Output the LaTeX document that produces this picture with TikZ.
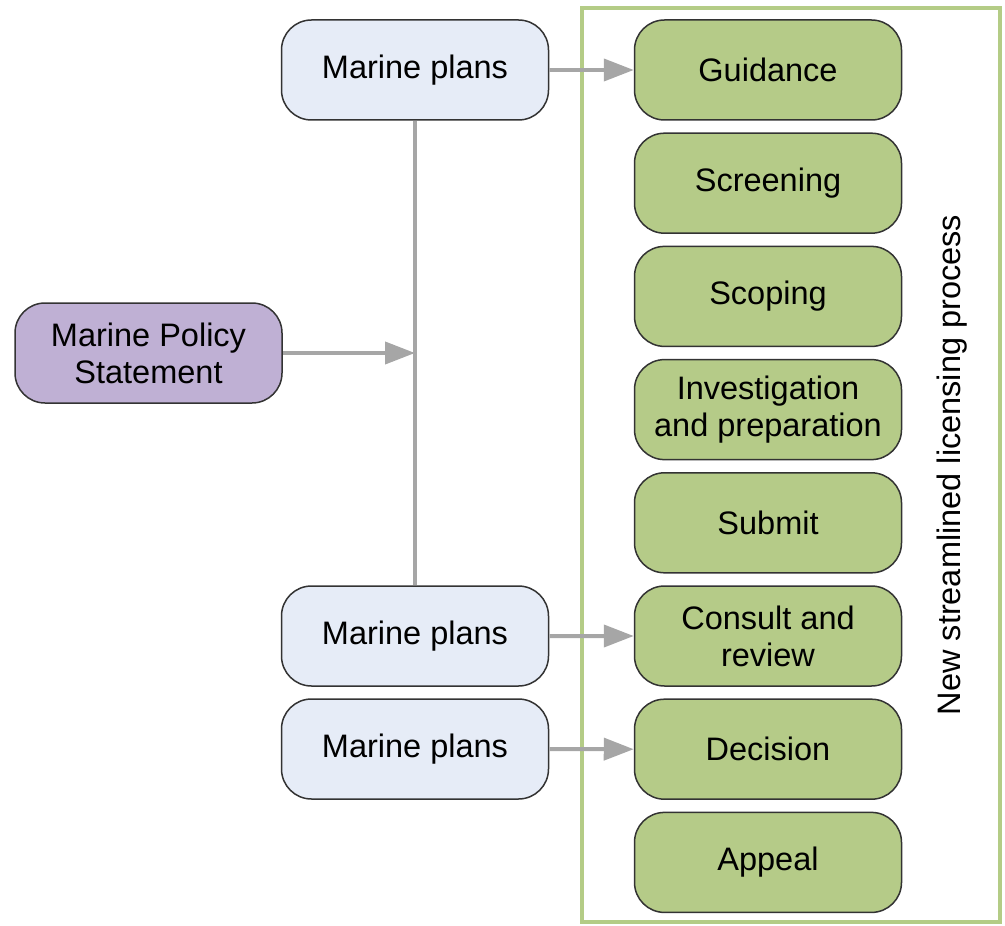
\documentclass[tikz,border=0pt]{standalone}
\usepackage{fontspec}
\setmainfont{Liberation Sans}
\usetikzlibrary{arrows.meta}

\definecolor{planblue}{HTML}{E6ECF7}
\definecolor{policypurple}{HTML}{BFB0D4}
\definecolor{stepgreen}{HTML}{B5CB88}
\definecolor{framegreen}{HTML}{B4CC86}
\definecolor{linkgray}{HTML}{A6A6A6}

\tikzset{
  stage/.style={draw=black!80, line width=0.75pt, rounded corners=15pt,
    minimum width=133.5pt, minimum height=50pt, inner sep=0pt, align=center,
    font=\fontsize{16.25}{18.5}\selectfont},
  plan/.style={stage, fill=planblue},
  policy/.style={stage, fill=policypurple},
  licence/.style={stage, fill=stepgreen},
  link/.style={draw=linkgray, line width=2pt, -{Triangle[length=15pt,width=11pt]}}
}

\begin{document}
\begin{tikzpicture}[x=0.5pt,y=-0.5pt]
    \useasboundingbox (0,0) rectangle (1005,925);
    % licensing frame
    \draw[framegreen, line width=2pt] (582,8) rectangle (1000,922);
    \node[rotate=90, font=\fontsize{16.25}{18.5}\selectfont] (title) at (952,465) {New streamlined licensing process};
    % steps
    \foreach \name/\txt [count=\i from 0] in {guid/Guidance, screen/Screening, scope/Scoping,
        invest/Investigation\\and preparation, submit/Submit, consult/Consult and\\review,
        decide/Decision, appeal/Appeal}
        \node[licence] (\name) at (768,70+113.2*\i) {\txt};
    % plans and policy
    \node[plan] (mpa) at (415,70) {Marine plans};
    \node[plan] (mpb) at (415,636) {Marine plans};
    \node[plan] (mpc) at (415,749) {Marine plans};
    \node[policy] (mps) at (148.5,353) {Marine Policy\\Statement};
    % links
    \draw[linkgray, line width=2pt] (mpa.south) -- (mpb.north);
    \draw[link] (mps.east) -- (mps.east -| mpa.south);
    \draw[link] (mpa.east) -- (guid.west);
    \draw[link] (mpb.east) -- (consult.west);
    \draw[link] (mpc.east) -- (decide.west);
\end{tikzpicture}
\end{document}
